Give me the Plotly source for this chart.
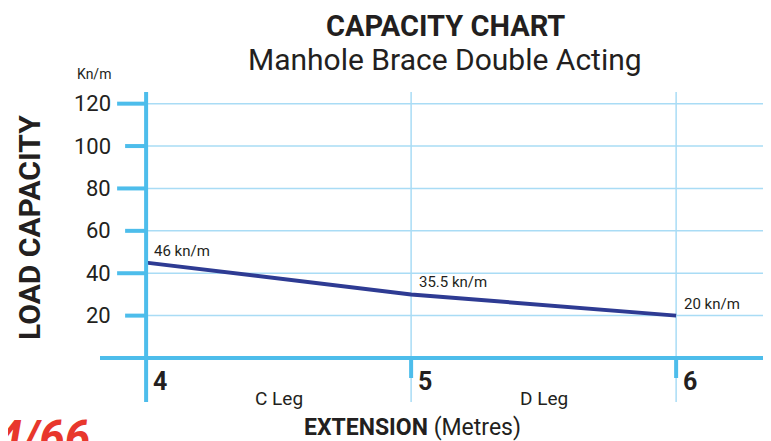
import plotly.graph_objects as go

# ---- data ----
extension_m = [4, 5, 6]
capacity_knm = [45, 30, 20]
point_labels = ["46 kn/m", "35.5 kn/m", "20 kn/m"]
y_ticks = [20, 40, 60, 80, 100, 120]
x_ticks = [4, 5, 6]
leg_names = ["C Leg", "D Leg"]
leg_centres = [4.5, 5.5]

FONT = "Roboto"
TXT = "#231F20"
AXIS = "#4DBDEB"
GRID = "#A9DCF5"
LINE = "#2E3B93"

OFF = 8  # default page body margin
W, H = 771 - OFF, 441 - OFF
ML, MR, MT, MB = 100 - OFF, 0, 92 - OFF, 441 - 402
XR = [3.826, 6.358]
YR = [-20.75, 125.5]
pw, ph = W - ML - MR, H - MT - MB


def paper(xr, yr):
    """reference page pixel -> paper coords"""
    fx, fy = xr - OFF, yr - OFF
    return (fx - ML) / pw, (H - fy - MB) / ph


fig = go.Figure()
fig.add_trace(go.Scatter(
    x=extension_m, y=capacity_knm, mode="lines",
    line=dict(color=LINE, width=4), hoverinfo="skip", showlegend=False))

shapes = []
for v in y_ticks:
    shapes.append(dict(type="line", xref="x", yref="y", x0=x_ticks[0], x1=XR[1],
                       y0=v, y1=v, line=dict(color=GRID, width=1.5), layer="below"))
for v in x_ticks[1:]:
    shapes.append(dict(type="line", xref="x", yref="paper", x0=v, x1=v,
                       y0=0, y1=1, line=dict(color=GRID, width=1.5), layer="below"))
    shapes.append(dict(type="line", xref="x", yref="y", x0=v, x1=v,
                       ysizemode="pixel", yanchor=0, y0=-20, y1=0,
                       line=dict(color=AXIS, width=4)))
for i, v in enumerate(y_ticks):
    length = 21 if i % 2 == 0 else 29
    shapes.append(dict(type="line", xref="x", yref="y", xsizemode="pixel",
                       xanchor=x_ticks[0], x0=-length, x1=0, y0=v, y1=v,
                       line=dict(color=AXIS, width=4)))
shapes.append(dict(type="line", xref="paper", yref="y", x0=0, x1=1, y0=0, y1=0,
                   line=dict(color=AXIS, width=4)))
shapes.append(dict(type="line", xref="x", yref="paper", x0=x_ticks[0], x1=x_ticks[0],
                   y0=0, y1=1, line=dict(color=AXIS, width=4)))

ann = []
for v in y_ticks:
    ann.append(dict(x=x_ticks[0], y=v, xref="x", yref="y", text=str(v),
                    xanchor="right", yanchor="middle", xshift=-33, showarrow=False,
                    font=dict(family=FONT, size=22, color=TXT)))
for v in x_ticks:
    ann.append(dict(x=v, y=0, xref="x", yref="y", text=f"<b>{v}</b>",
                    xanchor="left", yanchor="middle", xshift=5, yshift=-23, showarrow=False,
                    font=dict(family=FONT, size=25, color=TXT)))
for name, c in zip(leg_names, leg_centres):
    ann.append(dict(x=c, y=0, xref="x", yref="y", text=name,
                    xanchor="center", yanchor="middle", yshift=-40, showarrow=False,
                    font=dict(family=FONT, size=19, color=TXT)))
for xv, yv, t in zip(extension_m, capacity_knm, point_labels):
    ann.append(dict(x=xv, y=yv, xref="x", yref="y", text=t,
                    xanchor="left", yanchor="middle", xshift=6, yshift=12, showarrow=False,
                    font=dict(family=FONT, size=15, color=TXT)))


def page_text(xr, yr, text, size, **kw):
    px, py = paper(xr, yr)
    d = dict(x=px, y=py, xref="paper", yref="paper", text=text, showarrow=False,
             xanchor="center", yanchor="middle",
             font=dict(family=FONT, size=size, color=kw.pop("color", TXT)))
    d.update(kw)
    ann.append(d)


page_text(94, 74, "Kn/m", 14)
page_text(445, 26, "<b>CAPACITY CHART</b>", 29)
page_text(445, 60, "Manhole Brace Double Acting", 30)
page_text(412, 427, "<b>EXTENSION</b> (Metres)", 23)
page_text(29, 228, "<b>LOAD CAPACITY</b>", 30, textangle=-90)
page_text(92, 408, "<b><i>4/66</i></b>", 46, color="#E8372C", xanchor="right", yanchor="top")

fig.update_layout(
    width=W, height=H, margin=dict(l=ML, r=MR, t=MT, b=MB),
    paper_bgcolor="white", plot_bgcolor="white",
    xaxis=dict(range=XR, showgrid=False, zeroline=False, showticklabels=False, fixedrange=True),
    yaxis=dict(range=YR, showgrid=False, zeroline=False, showticklabels=False, fixedrange=True),
    shapes=shapes, annotations=ann, showlegend=False)

fig.write_html("out.html")
